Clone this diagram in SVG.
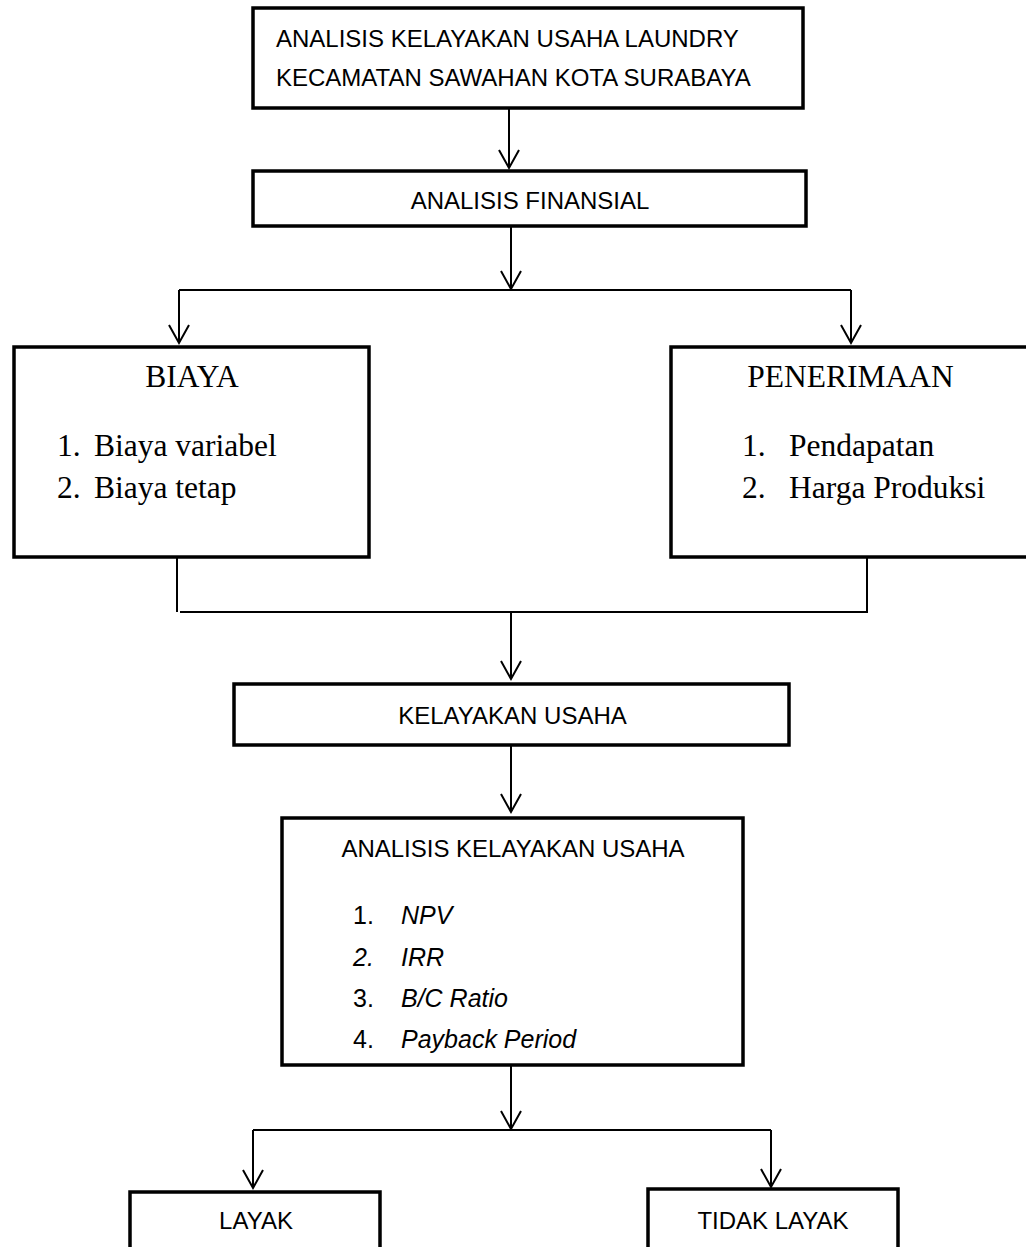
<svg xmlns="http://www.w3.org/2000/svg" width="1026" height="1247" viewBox="0 0 1026 1247">
<style>
.box{fill:#fff;stroke:#000;stroke-width:3.5}
.c{fill:none;stroke:#000;stroke-width:2}
.s{font-family:"Liberation Sans",Arial,sans-serif;font-size:24px;fill:#000}
.li{font-size:25px}
.t{font-family:"Liberation Serif","Times New Roman",serif;font-size:31.5px;fill:#000}
.i{font-style:italic}
</style>
<defs>
<marker id="arr" markerUnits="userSpaceOnUse" viewBox="-20 -12 22 24" refX="0" refY="0" markerWidth="22" markerHeight="24" orient="auto" overflow="visible">
<path d="M-18,-10 L0,0 L-18,10" fill="none" stroke="#000" stroke-width="2"/>
</marker>
</defs>
<rect width="1026" height="1247" fill="#fff"/>
<g id="connectors">
<line class="c" x1="509" y1="108" x2="509" y2="168" marker-end="url(#arr)"/>
<line class="c" x1="511" y1="226" x2="511" y2="289" marker-end="url(#arr)"/>
<line class="c" x1="179" y1="290" x2="851" y2="290"/>
<line class="c" x1="179" y1="290" x2="179" y2="343" marker-end="url(#arr)"/>
<line class="c" x1="851" y1="290" x2="851" y2="343" marker-end="url(#arr)"/>
<line class="c" x1="177" y1="557" x2="177" y2="612"/>
<line class="c" x1="180" y1="612" x2="867" y2="612"/>
<line class="c" x1="867" y1="557" x2="867" y2="613"/>
<line class="c" x1="511" y1="612" x2="511" y2="679" marker-end="url(#arr)"/>
<line class="c" x1="511" y1="745" x2="511" y2="812" marker-end="url(#arr)"/>
<line class="c" x1="511" y1="1065" x2="511" y2="1129" marker-end="url(#arr)"/>
<line class="c" x1="253" y1="1130" x2="771" y2="1130"/>
<line class="c" x1="253" y1="1130" x2="253" y2="1188" marker-end="url(#arr)"/>
<line class="c" x1="771" y1="1130" x2="771" y2="1187" marker-end="url(#arr)"/>
</g>
<g id="n-top">
<rect class="box" x="253" y="8" width="550" height="100"/>
<text class="s" x="276" y="47">ANALISIS KELAYAKAN USAHA LAUNDRY</text>
<text class="s" x="276" y="86">KECAMATAN SAWAHAN KOTA SURABAYA</text>
</g>
<g id="n-finansial">
<rect class="box" x="253" y="171" width="553" height="55"/>
<text class="s" x="530" y="209" text-anchor="middle">ANALISIS FINANSIAL</text>
</g>
<g id="n-biaya">
<rect class="box" x="14" y="347" width="355" height="210"/>
<text class="t" x="192" y="387" text-anchor="middle">BIAYA</text>
<text class="t" x="57" y="456">1.</text><text class="t" x="94" y="456">Biaya variabel</text>
<text class="t" x="57" y="498">2.</text><text class="t" x="94" y="498">Biaya tetap</text>
</g>
<g id="n-penerimaan">
<rect class="box" x="671" y="347" width="362" height="210"/>
<text class="t" x="850.5" y="387" text-anchor="middle">PENERIMAAN</text>
<text class="t" x="742" y="456">1.</text><text class="t" x="789" y="456">Pendapatan</text>
<text class="t" x="742" y="498">2.</text><text class="t" x="789" y="498">Harga Produksi</text>
</g>
<g id="n-kelayakan">
<rect class="box" x="234" y="684" width="555" height="61"/>
<text class="s" x="512.5" y="724" text-anchor="middle">KELAYAKAN USAHA</text>
</g>
<g id="n-analisis">
<rect class="box" x="282" y="818" width="461" height="247"/>
<text class="s" x="513" y="857" text-anchor="middle">ANALISIS KELAYAKAN USAHA</text>
<text class="s li" x="353" y="924">1.</text><text class="s li i" x="401" y="924">NPV</text>
<text class="s li i" x="353" y="966">2.</text><text class="s li i" x="401" y="966">IRR</text>
<text class="s li" x="353" y="1007">3.</text><text class="s li i" x="401" y="1007">B/C Ratio</text>
<text class="s li" x="353" y="1048">4.</text><text class="s li i" x="401" y="1048">Payback Period</text>
</g>
<g id="n-layak">
<rect class="box" x="130" y="1192" width="250" height="70"/>
<text class="s" x="256" y="1229" text-anchor="middle">LAYAK</text>
</g>
<g id="n-tidak">
<rect class="box" x="648" y="1189" width="250" height="73"/>
<text class="s" x="773" y="1229" text-anchor="middle">TIDAK LAYAK</text>
</g>
</svg>
